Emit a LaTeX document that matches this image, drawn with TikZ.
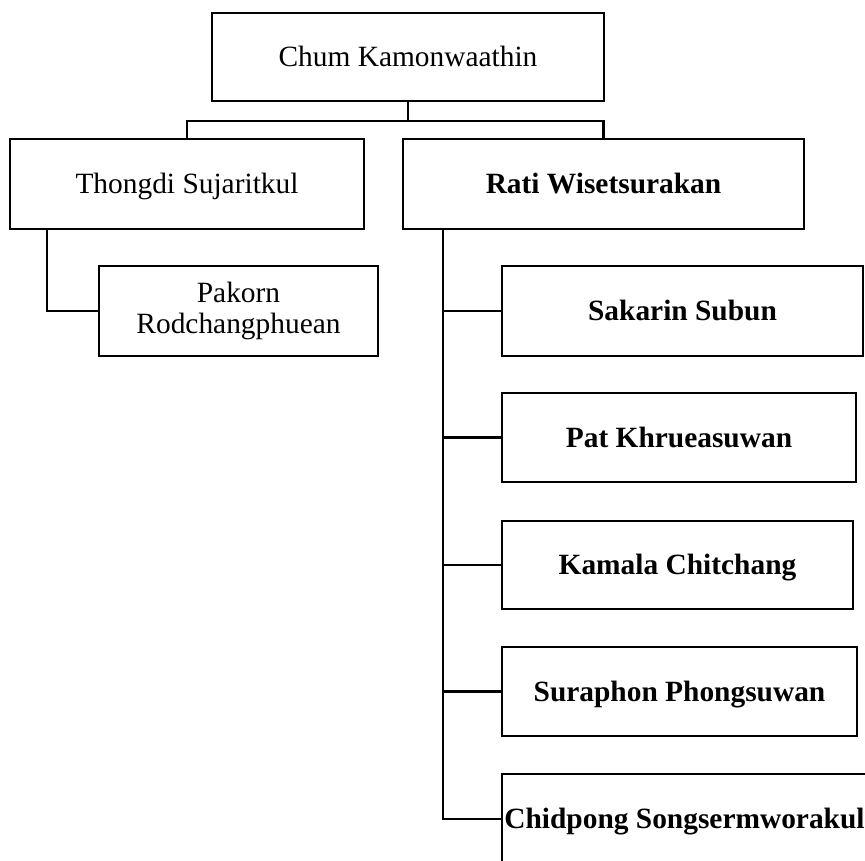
\documentclass[tikz,border=0pt]{standalone}
\usepackage{fontspec}
\setmainfont{Liberation Serif}
\begin{document}
\begin{tikzpicture}[x=1pt,y=-1pt,
  box/.style={draw=black, line width=2.8pt, rectangle, inner sep=0pt, align=center,
    text height=19pt, text depth=0pt,
    font=\fontsize{29.4}{30}\selectfont},
  bbox/.style={box, font=\fontsize{29.4}{30}\selectfont\bfseries},
  link/.style={draw=black, line width=2.8pt}]
\fill[white] (0,0) rectangle (865,861);
\useasboundingbox (0,0) rectangle (865,861);
\clip (0,0) rectangle (865,861);

\node[box, minimum width=392pt, minimum height=88pt] (top) at (408,57) {Chum Kamonwaathin};
\node[box, minimum width=354pt, minimum height=90pt] (thongdi) at (187,184) {Thongdi Sujaritkul};
\node[bbox, minimum width=401pt, minimum height=90pt] (rati) at (603.5,184) {Rati Wisetsurakan};
\node[draw=black, line width=2.8pt, rectangle, inner sep=0pt, align=center,
  font=\fontsize{29.4}{30.5}\selectfont,
  minimum width=279pt, minimum height=90pt] (pakorn) at (238.5,311) {Pakorn\\[0pt]Rodchangphuean\rule{0pt}{0pt}};
\node[bbox, minimum width=361pt, minimum height=90pt] (sakarin) at (682.5,311) {Sakarin Subun};
\node[bbox, minimum width=354pt, minimum height=89pt] (pat) at (679,437.5) {Pat Khrueasuwan};
\node[bbox, minimum width=351pt, minimum height=88pt] (kamala) at (677.5,565) {Kamala Chitchang};
\node[bbox, minimum width=355pt, minimum height=89pt] (suraphon) at (679.5,691.5) {Suraphon Phongsuwan};
\node[bbox, minimum width=365pt, minimum height=90pt] (chid) at (684.5,819) {Chidpong Songsermworakul};

% top level
\coordinate (bus) at (408,121);
\draw[link] (top.south) -- (bus);
\draw[link] (thongdi.north) -- (thongdi.north |- bus) -- (rati.north |- bus) -- (rati.north);

% Thongdi branch
\coordinate (ltrunk) at (47,229);
\draw[link] (ltrunk) |- (pakorn.west);

% Rati branch
\coordinate (rtrunk) at (443,229);
\draw[link] (rtrunk) |- (chid.west);
\draw[link] (sakarin.west) -- (sakarin.west -| rtrunk);
\draw[link] (pat.west) -- (pat.west -| rtrunk);
\draw[link] (kamala.west) -- (kamala.west -| rtrunk);
\draw[link] (suraphon.west) -- (suraphon.west -| rtrunk);
\end{tikzpicture}
\end{document}
